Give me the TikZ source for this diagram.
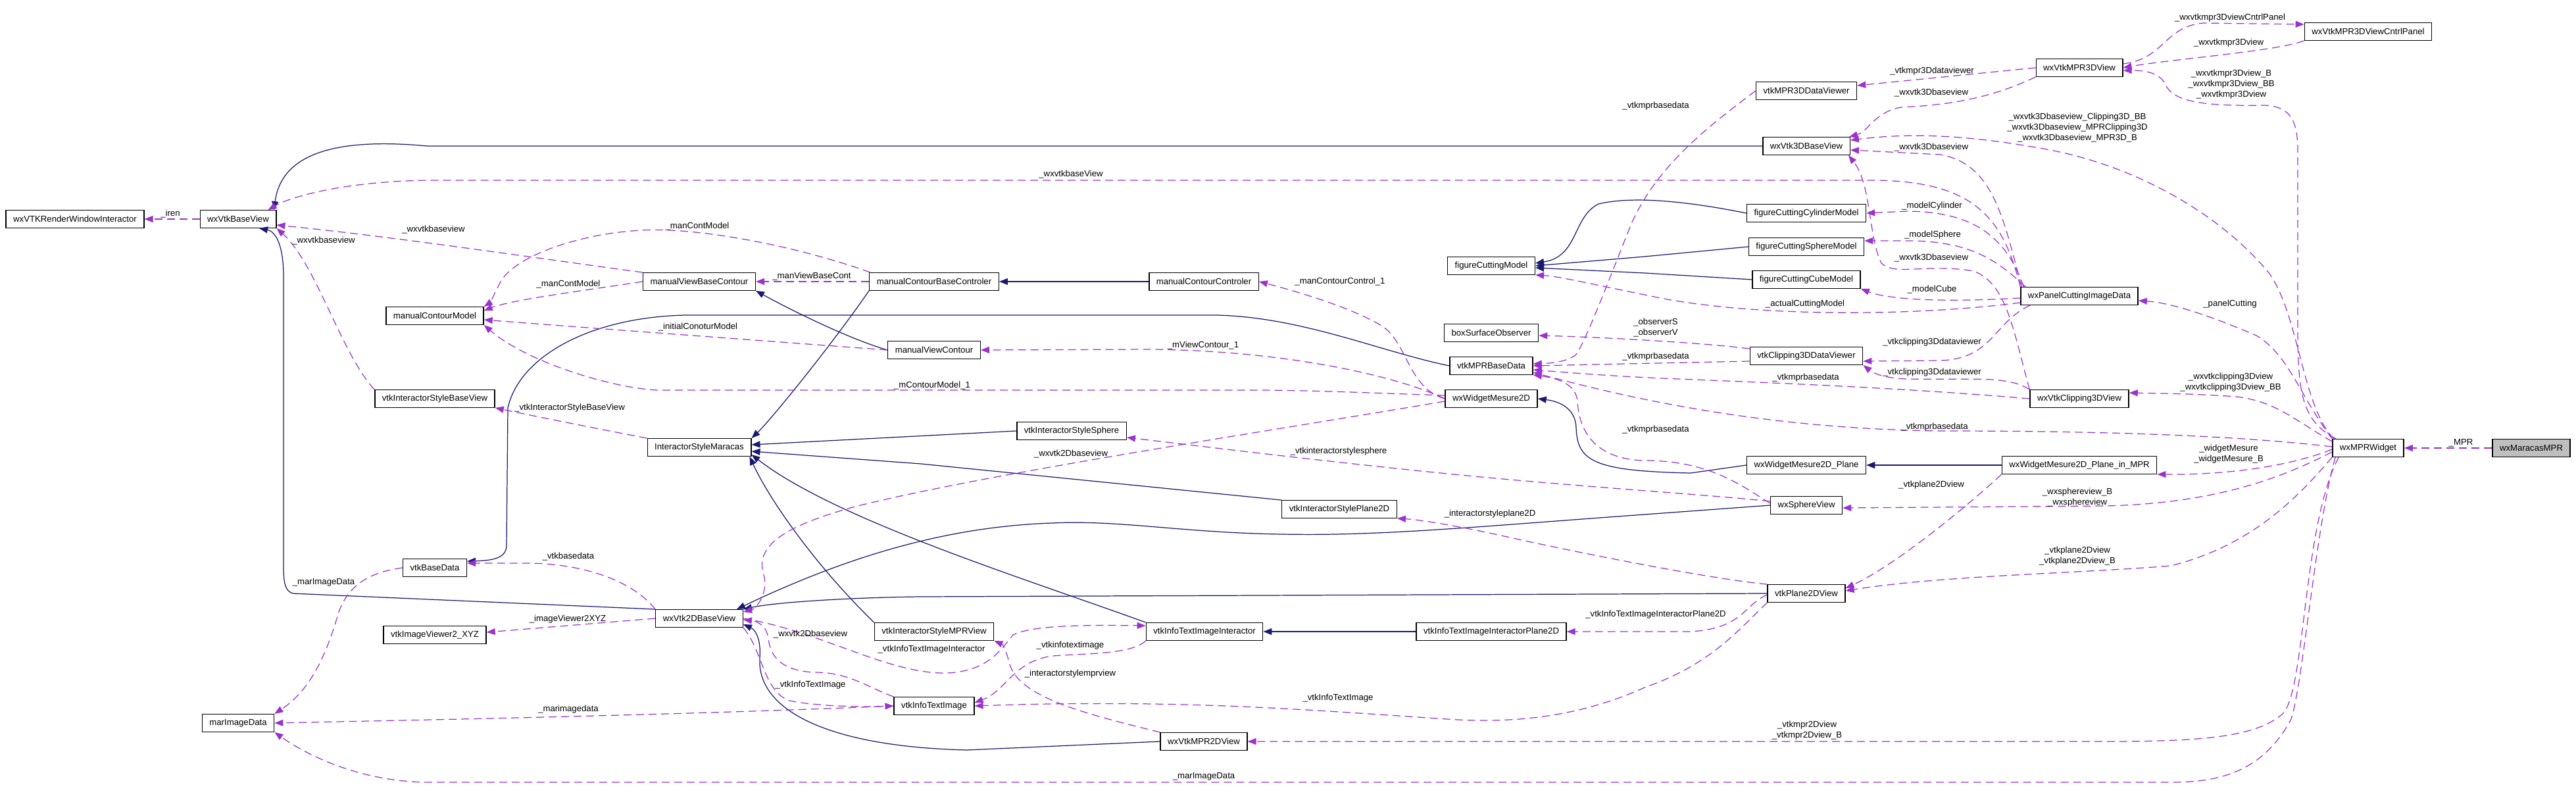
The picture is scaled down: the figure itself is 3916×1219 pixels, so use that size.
\documentclass[tikz,border=0pt]{standalone}
\usepackage{fontspec}
\setmainfont{Liberation Sans}
\usepackage{tikz}
\usetikzlibrary{arrows.meta}
\definecolor{inher}{RGB}{25,25,112}
\definecolor{usage}{RGB}{154,50,205}

\begin{document}
\begin{tikzpicture}[x=0.01cm, y=-0.01cm,
    every node/.style={font=\fontsize{3.75}{4.55}\selectfont},
    cls/.style={draw, line width=0.4pt, inner xsep=0.11cm, inner ysep=0pt, minimum height=0.265cm},
    lbl/.style={inner sep=0pt, align=center},
    derive/.style={draw=inher, line width=0.35pt, -{Triangle[length=0.13cm, width=0.1cm]}},
    member/.style={draw=usage, line width=0.35pt, dash pattern=on 3.4pt off 2pt, -{Triangle[length=0.13cm, width=0.1cm]}}]
    \useasboundingbox (0, 0) rectangle (3916, 1219);

    \node [cls] (renWin) at (114, 333) {wxVTKRenderWindowInteractor};
    \node [cls] (baseView) at (362, 333) {wxVtkBaseView};
    \node [cls] (contModel) at (661, 480) {manualContourModel};
    \node [cls] (styleBase) at (661, 606) {vtkInteractorStyleBaseView};
    \node [cls] (baseData) at (661, 863) {vtkBaseData};
    \node [cls] (viewerXYZ) at (661, 965) {vtkImageViewer2\_XYZ};
    \node [cls] (marData) at (362, 1099) {marImageData};
    \node [cls] (viewBaseCont) at (1063, 428) {manualViewBaseContour};
    \node [cls] (styleMaracas) at (1063, 680) {InteractorStyleMaracas};
    \node [cls] (view2D) at (1063, 940) {wxVtk2DBaseView};
    \node [cls] (contBaseCtrl) at (1420, 428) {manualContourBaseControler};
    \node [cls] (viewCont) at (1420, 532) {manualViewContour};
    \node [cls] (styleMPR) at (1420, 960) {vtkInteractorStyleMPRView};
    \node [cls] (infoText) at (1420, 1073) {vtkInfoTextImage};
    \node [cls] (contCtrl) at (1830, 428) {manualContourControler};
    \node [cls] (styleSphere) at (1629, 655) {vtkInteractorStyleSphere};
    \node [cls] (stylePlane) at (2036, 774) {vtkInteractorStylePlane2D};
    \node [cls] (infoInter) at (1831, 960) {vtkInfoTextImageInteractor};
    \node [cls] (mpr2D) at (1830, 1127) {wxVtkMPR2DView};
    \node [cls] (cutModel) at (2267, 404) {figureCuttingModel};
    \node [cls] (boxObs) at (2267, 506) {boxSurfaceObserver};
    \node [cls] (mprData) at (2267, 556) {vtkMPRBaseData};
    \node [cls] (mesure) at (2267, 606) {wxWidgetMesure2D};
    \node [cls] (infoInterPlane) at (2267, 960) {vtkInfoTextImageInteractorPlane2D};
    \node [cls] (mpr3DViewer) at (2746, 138) {vtkMPR3DDataViewer};
    \node [cls] (view3D) at (2746, 222) {wxVtk3DBaseView};
    \node [cls] (cutCyl) at (2746, 324) {figureCuttingCylinderModel};
    \node [cls] (cutSph) at (2746, 375) {figureCuttingSphereModel};
    \node [cls] (cutCube) at (2746, 425) {figureCuttingCubeModel};
    \node [cls] (clipViewer) at (2746, 541) {vtkClipping3DDataViewer};
    \node [cls] (mesurePlane) at (2746, 707) {wxWidgetMesure2D\_Plane};
    \node [cls] (sphereView) at (2746, 768) {wxSphereView};
    \node [cls] (plane2D) at (2746, 902) {vtkPlane2DView};
    \node [cls] (mpr3D) at (3161, 103) {wxVtkMPR3DView};
    \node [cls] (panelCut) at (3161, 450) {wxPanelCuttingImageData};
    \node [cls] (clip3D) at (3161, 606) {wxVtkClipping3DView};
    \node [cls] (mesurePlaneMPR) at (3161, 707) {wxWidgetMesure2D\_Plane\_in\_MPR};
    \node [cls] (cntrlPanel) at (3600, 48) {wxVtkMPR3DViewCntrlPanel};
    \node [cls] (mprWidget) at (3600, 681) {wxMPRWidget};
    \node [cls, fill={rgb,255:red,191;green,191;blue,191}] (maracas) at (3848, 681) {wxMaracasMPR};

    \draw [derive] (view3D.west) -- (650, 222) .. controls (470, 205) and (425, 255) .. ([xshift=-0.04cm]baseView.north east);
    \draw [derive] (view2D.north west) -- (445, 902) .. controls (433, 898) and (431, 885) .. (431, 860) -- (431, 420) .. controls (431, 375) and (420, 352) .. ([xshift=0.32cm]baseView.south);
    \draw [derive] (mprData.west) .. controls (2100, 535) and (1980, 482) .. (1849, 479) -- (1042, 479) .. controls (900, 482) and (790, 540) .. (772, 620) -- (770, 830) .. controls (769, 848) and (750, 852) .. ([yshift=-0.04cm]baseData.north east);
    \draw [derive] (viewCont.west) .. controls (1290, 515) and (1200, 470) .. (viewBaseCont.south east);
    \draw [derive] (contBaseCtrl.south west) .. controls (1260, 530) and (1170, 640) .. (styleMaracas.north east);
    \draw [derive] (contCtrl) -- (contBaseCtrl);
    \draw [derive] (styleSphere.west) -- ([yshift=0.04cm]styleMaracas.east);
    \draw [derive] (stylePlane.north west) -- (1400, 705) -- ([yshift=-0.06cm]styleMaracas.east);
    \draw [derive] (styleMPR.north west) .. controls (1240, 860) and (1170, 760) .. ([xshift=-0.03cm]styleMaracas.south east);
    \draw [derive] (infoInter.north west) .. controls (1560, 880) and (1270, 790) .. ([yshift=0.03cm]styleMaracas.south east);
    \draw [derive] (infoInterPlane) -- (infoInter);
    \draw [derive] (sphereView.west) -- (2500, 782) .. controls (2250, 800) and (2100, 815) .. (1950, 812) .. controls (1800, 810) and (1700, 790) .. (1600, 795) .. controls (1450, 800) and (1300, 840) .. ([xshift=-0.1cm]view2D.north east);
    \draw [derive] (plane2D.west) -- (1400, 907) .. controls (1300, 908) and (1180, 915) .. (view2D.north east);
    \draw [derive] (mpr2D.west) -- (1470, 1140) .. controls (1260, 1135) and (1150, 1080) .. (1155, 1000) .. controls (1157, 975) and (1150, 958) .. ([yshift=0.05cm]view2D.south east);
    \draw [derive] (cutCyl.west) .. controls (2560, 305) and (2480, 298) .. (2430, 310) .. controls (2390, 330) and (2400, 390) .. ([yshift=0.04cm]cutModel.east);
    \draw [derive] (cutSph.west) -- (2500, 390) -- (cutModel.east);
    \draw [derive] (cutCube.west) -- (2500, 415) -- ([yshift=-0.03cm]cutModel.east);
    \draw [derive] (mesurePlane.west) -- (2570, 719) .. controls (2420, 716) and (2398, 700) .. (2396, 650) .. controls (2395, 620) and (2370, 610) .. (mesure.east);
    \draw [derive] (mesurePlaneMPR) -- (mesurePlane);

    \draw [member] (maracas) -- (mprWidget);
    \draw [member] (baseView) -- (renWin);
    \draw [member] (panelCut.north west) .. controls (3045, 330) and (3000, 276) .. (2851, 274) -- (650, 274) .. controls (520, 276) and (440, 300) .. ([xshift=-0.13cm]baseView.north east);
    \draw [member] (viewBaseCont.north west) .. controls (820, 393) and (600, 360) .. ([yshift=-0.09cm]baseView.east);
    \draw [member] (styleBase.north west) .. controls (520, 540) and (480, 400) .. (baseView.south east);
    \draw [member] ([xshift=0.02cm]contBaseCtrl.north west) .. controls (1200, 370) and (1050, 345) .. (975, 350) .. controls (880, 355) and (780, 390) .. (760, 430) .. controls (750, 450) and (745, 460) .. (contModel.north east);
    \draw [member] (viewBaseCont.west) .. controls (900, 440) and (780, 455) .. ([yshift=-0.06cm]contModel.north east);
    \draw [member] (contBaseCtrl) -- (viewBaseCont);
    \draw [member] (viewCont.west) .. controls (1000, 506) and (850, 495) .. ([yshift=-0.06cm]contModel.east);
    \draw [member] ([yshift=0.05cm]mesure.west) .. controls (2100, 598) and (2000, 593) .. (1900, 593) -- (1000, 593) .. controls (930, 590) and (800, 550) .. (contModel.south east);
    \draw [member] (mesure.west) .. controls (2140, 590) and (2140, 520) .. (2100, 495) .. controls (2050, 465) and (1960, 440) .. (contCtrl.east);
    \draw [member] (mesure.west) .. controls (2120, 570) and (1950, 533) .. (1750, 531) -- (viewCont.east);
    \draw [member] (styleMaracas.north west) .. controls (900, 650) and (800, 630) .. (styleBase.south east);
    \draw [member] (baseData.west) .. controls (560, 870) and (530, 890) .. (515, 930) .. controls (495, 1000) and (470, 1050) .. (marData.north east);
    \draw [member] (view2D.north west) .. controls (960, 880) and (880, 856) .. (800, 856) -- ([yshift=0.07cm]baseData.east);
    \draw [member] (view2D.west) -- ([yshift=0.04cm]viewerXYZ.east);
    \draw [member] (infoText.west) .. controls (1000, 1088) and (600, 1095) .. (marData.east);
    \draw [member] ([xshift=0.05cm]mprWidget.south west) .. controls (3520, 800) and (3500, 1050) .. (3482, 1095) .. controls (3440, 1170) and (3380, 1189) .. (3300, 1189) -- (650, 1189) .. controls (550, 1188) and (470, 1150) .. (marData.south east);
    \draw [member] ([xshift=0.1cm]mprWidget.south west) .. controls (3500, 800) and (3505, 1050) .. (3470, 1085) .. controls (3430, 1120) and (3350, 1127) .. (3200, 1127) -- (mpr2D.east);
    \draw [member] (mprWidget.south west) .. controls (3490, 760) and (3420, 830) .. (3300, 860) .. controls (3150, 872) and (2950, 875) .. ([yshift=0.04cm]plane2D.east);
    \draw [member] ([yshift=-0.06cm]mprWidget.west) .. controls (3480, 720) and (3380, 765) .. (3200, 769) -- ([yshift=-0.04cm]sphereView.east);
    \draw [member] ([yshift=-0.02cm]mprWidget.west) .. controls (3490, 705) and (3400, 722) .. (mesurePlaneMPR.south east);
    \draw [member] ([yshift=0.02cm]mprWidget.west) .. controls (3400, 662) and (3200, 655) .. (2950, 655) .. controls (2700, 652) and (2500, 612) .. ([yshift=-0.1cm]mprData.east);
    \draw [member] (mprWidget.north west) .. controls (3495, 600) and (3480, 540) .. (3430, 510) .. controls (3360, 480) and (3300, 460) .. ([yshift=-0.07cm]panelCut.east);
    \draw [member] ([yshift=-0.04cm]mprWidget.north west) .. controls (3490, 640) and (3460, 610) .. (3400, 603) .. controls (3330, 598) and (3280, 598) .. ([yshift=0.09cm]clip3D.east);
    \draw [member] ([xshift=0.03cm]mprWidget.north west) .. controls (3500, 620) and (3495, 480) .. (3450, 416) .. controls (3380, 330) and (3250, 250) .. (3100, 225) .. controls (2960, 200) and (2880, 205) .. ([yshift=-0.05cm]view3D.north east);
    \draw [member] ([xshift=0.06cm]mprWidget.north west) .. controls (3500, 640) and (3493, 600) .. (3493, 500) -- (3493, 230) .. controls (3493, 180) and (3480, 161) .. (3440, 160) .. controls (3330, 162) and (3300, 150) .. (3290, 125) .. controls (3280, 110) and (3260, 107) .. ([yshift=-0.04cm]mpr3D.east);
    \draw [member] ([yshift=0.06cm]mpr3D.east) .. controls (3290, 90) and (3290, 40) .. (3350, 35) -- ([yshift=0.11cm]cntrlPanel.west);
    \draw [member] (cntrlPanel.south west) .. controls (3460, 78) and (3300, 90) .. (mpr3D.east);
    \draw [member] (mpr3D.west) -- ([yshift=0.08cm]mpr3DViewer.east);
    \draw [member] (mpr3D.south west) .. controls (3025, 150) and (2960, 160) .. (2890, 163) .. controls (2850, 170) and (2840, 200) .. ([xshift=-0.02cm]view3D.north east);
    \draw [member] (mpr3DViewer.west) .. controls (2600, 190) and (2520, 250) .. (2480, 340) .. controls (2440, 440) and (2410, 520) .. (2395, 540) .. controls (2380, 550) and (2360, 552) .. ([yshift=0.03cm]mprData.east);
    \draw [member] ([xshift=0.02cm]panelCut.north west) .. controls (3045, 330) and (3030, 250) .. (2950, 235) -- ([yshift=-0.06cm]view3D.east);
    \draw [member] (clip3D.north west) .. controls (3060, 500) and (3050, 430) .. (3000, 412) .. controls (2930, 400) and (2880, 420) .. (2860, 400) .. controls (2840, 360) and (2845, 280) .. ([xshift=-0.03cm]view3D.south east);
    \draw [member] ([xshift=0.05cm]panelCut.north west) .. controls (3050, 360) and (3000, 322) .. (2900, 321) -- (cutCyl.east);
    \draw [member] ([xshift=0.08cm]panelCut.north west) .. controls (3040, 400) and (3000, 366) .. (2900, 366) -- ([yshift=0.09cm]cutSph.east);
    \draw [member] ([yshift=-0.03cm]panelCut.west) .. controls (2950, 460) and (2870, 455) .. (cutCube.south east);
    \draw [member] ([yshift=-0.1cm]panelCut.west) .. controls (2900, 482) and (2650, 482) .. (2500, 448) .. controls (2420, 432) and (2370, 420) .. (cutModel.south east);
    \draw [member] ([xshift=0.15cm]panelCut.south west) .. controls (3030, 490) and (3030, 545) .. (2950, 548) -- ([yshift=-0.08cm]clipViewer.east);
    \draw [member] (clip3D.north west) .. controls (3050, 570) and (3000, 578) .. (2900, 576) .. controls (2860, 575) and (2845, 565) .. (clipViewer.south east);
    \draw [member] ([yshift=-0.08cm]clipViewer.west) -- (mprData.east);
    \draw [member] ([yshift=0.11cm]clipViewer.west) .. controls (2580, 520) and (2420, 512) .. ([yshift=-0.04cm]boxObs.east);
    \draw [member] (clip3D.west) .. controls (2900, 590) and (2700, 582) .. (2550, 576) .. controls (2450, 572) and (2380, 566) .. ([yshift=-0.06cm]mprData.east);
    \draw [member] ([yshift=0.03cm]sphereView.west) .. controls (2650, 740) and (2600, 700) .. (2500, 700) .. controls (2420, 698) and (2400, 650) .. (2398, 610) .. controls (2396, 585) and (2370, 575) .. (mprData.south east);
    \draw [member] ([yshift=0.06cm]sphereView.west) .. controls (2600, 752) and (2400, 740) .. (2200, 720) .. controls (2000, 700) and (1800, 675) .. ([yshift=-0.1cm]styleSphere.east);
    \draw [member] ([yshift=-0.04cm]mesure.west) .. controls (1900, 660) and (1500, 720) .. (1300, 770) .. controls (1190, 800) and (1150, 830) .. (1160, 870) .. controls (1170, 900) and (1150, 925) .. ([yshift=-0.04cm]view2D.north east);
    \draw [member] (plane2D.north west) .. controls (2600, 880) and (2400, 840) .. (2300, 818) .. controls (2220, 800) and (2160, 790) .. (stylePlane.south east);
    \draw [member] ([yshift=-0.02cm]plane2D.west) .. controls (2650, 920) and (2650, 955) .. (2570, 960) -- (infoInterPlane.east);
    \draw [member] (plane2D.south west) .. controls (2640, 960) and (2600, 1010) .. (2500, 1045) .. controls (2400, 1090) and (2300, 1100) .. (2200, 1093) .. controls (2000, 1080) and (1800, 1062) .. (infoText.east);
    \draw [member] (mpr2D.north west) .. controls (1650, 1085) and (1550, 1060) .. (1535, 1010) .. controls (1530, 990) and (1525, 980) .. (styleMPR.south east);
    \draw [member] (infoInter.south west) .. controls (1720, 995) and (1650, 993) .. (1600, 997) .. controls (1540, 1005) and (1530, 1050) .. ([yshift=0.05cm]infoText.east);
    \draw [member] (view2D.east) .. controls (1250, 960) and (1350, 1025) .. (1440, 1023) .. controls (1500, 1020) and (1520, 990) .. (1540, 965) .. controls (1570, 950) and (1650, 950) .. ([yshift=0.09cm]infoInter.west);
    \draw [member] (infoText.north west) .. controls (1320, 1045) and (1290, 1022) .. (1240, 1022) .. controls (1180, 1020) and (1170, 990) .. (1168, 970) .. controls (1165, 950) and (1150, 944) .. ([yshift=-0.02cm]view2D.east);
    \draw [member] (view2D.south east) .. controls (1160, 990) and (1160, 1050) .. (1200, 1065) .. controls (1240, 1073) and (1300, 1075) .. (infoText.west);
    \draw [member] (mesurePlaneMPR.south west) .. controls (2990, 770) and (2880, 860) .. ([yshift=0.08cm]plane2D.east);

    \node [lbl] (lIren) at (259, 325) {\_iren};
    \node [lbl] (lPanelBase) at (1628, 265) {\_wxvtkbaseView};
    \node [lbl] (lContBase) at (659, 349) {\_wxvtkbaseview};
    \node [lbl] (lStyleBase) at (492, 366) {\_wxvtkbaseview};
    \node [lbl] (lCtrlModel) at (1060, 344) {\_manContModel};
    \node [lbl] (lViewModel) at (864, 432) {\_manContModel};
    \node [lbl] (lViewBase) at (1234, 420) {\_manViewBaseCont};
    \node [lbl] (lInitModel) at (1061, 497) {\_initialConoturModel};
    \node [lbl] (lMesModel) at (1417, 586) {\_mContourModel\_1};
    \node [lbl] (lMesCtrl) at (2037, 428) {\_manContourControl\_1};
    \node [lbl] (lMesView) at (1829, 525) {\_mViewContour\_1};
    \node [lbl] (lMarStyle) at (866, 620) {\_vtkInteractorStyleBaseView};
    \node [lbl] (lBaseMar) at (492, 885) {\_marImageData};
    \node [lbl] (l2DBase) at (864, 846) {\_vtkbasedata};
    \node [lbl] (l2DViewer) at (863, 941) {\_imageViewer2XYZ};
    \node [lbl] (lInfoMar) at (864, 1078) {\_marimagedata};
    \node [lbl] (lMPRMar) at (1830, 1180) {\_marImageData};
    \node [lbl] (lMPR2D) at (2747, 1110) {\_vtkmpr2Dview\\\_vtkmpr2Dview\_B};
    \node [lbl] (lMPRPlane) at (3158, 845) {\_vtkplane2Dview\\\_vtkplane2Dview\_B};
    \node [lbl] (lMPRSphere) at (3158, 756) {\_wxsphereview\_B\\\_wxsphereview};
    \node [lbl] (lMPRMes) at (3388, 690) {\_widgetMesure\\\_widgetMesure\_B};
    \node [lbl] (lMPRData) at (2941, 649) {\_vtkmprbasedata};
    \node [lbl] (lMPRPanel) at (3390, 462) {\_panelCutting};
    \node [lbl] (lMPRClip) at (3391, 581) {\_wxvtkclipping3Dview\\\_wxvtkclipping3Dview\_BB};
    \node [lbl] (lMPR3DBase) at (3158, 194) {\_wxvtk3Dbaseview\_Clipping3D\_BB\\\_wxvtk3Dbaseview\_MPRClipping3D\\\_wxvtk3Dbaseview\_MPR3D\_B};
    \node [lbl] (lMPR3D) at (3392, 128) {\_wxvtkmpr3Dview\_B\\\_wxvtkmpr3Dview\_BB\\\_wxvtkmpr3Dview};
    \node [lbl] (l3DPanel) at (3390, 27) {\_wxvtkmpr3DviewCntrlPanel};
    \node [lbl] (lPanel3D) at (3388, 65) {\_wxvtkmpr3Dview};
    \node [lbl] (l3DViewer) at (2937, 108) {\_vtkmpr3Ddataviewer};
    \node [lbl] (l3DBase) at (2936, 141) {\_wxvtk3Dbaseview};
    \node [lbl] (lViewerData) at (2517, 161) {\_vtkmprbasedata};
    \node [lbl] (lPanel3DBase) at (2936, 224) {\_wxvtk3Dbaseview};
    \node [lbl] (lClip3DBase) at (2936, 392) {\_wxvtk3Dbaseview};
    \node [lbl] (lCyl) at (2937, 313) {\_modelCylinder};
    \node [lbl] (lSph) at (2938, 357) {\_modelSphere};
    \node [lbl] (lCube) at (2937, 440) {\_modelCube};
    \node [lbl] (lActual) at (2744, 462) {\_actualCuttingModel};
    \node [lbl] (lPanelClip) at (2937, 520) {\_vtkclipping3Ddataviewer};
    \node [lbl] (lClipViewer) at (2937, 566) {\_vtkclipping3Ddataviewer};
    \node [lbl] (lClipData) at (2517, 542) {\_vtkmprbasedata};
    \node [lbl] (lObs) at (2517, 498) {\_observerS\\\_observerV};
    \node [lbl] (lClip3DData) at (2745, 574) {\_vtkmprbasedata};
    \node [lbl] (lSphereData) at (2517, 653) {\_vtkmprbasedata};
    \node [lbl] (lSphereStyle) at (2035, 686) {\_vtkinteractorstylesphere};
    \node [lbl] (lMes2D) at (1628, 690) {\_wxvtk2Dbaseview};
    \node [lbl] (lPlaneStyle) at (2265, 781) {\_interactorstyleplane2D};
    \node [lbl] (lPlaneInter) at (2517, 934) {\_vtkInfoTextImageInteractorPlane2D};
    \node [lbl] (lPlaneInfo) at (2034, 1061) {\_vtkInfoTextImage};
    \node [lbl] (lMaracas) at (3741, 673) {\_MPR};
    \node [lbl] (lMPRStyle) at (1627, 1024) {\_interactorstylemprview};
    \node [lbl] (lInterInfo) at (1627, 981) {\_vtkinfotextimage};
    \node [lbl] (l2DInter) at (1416, 987) {\_vtkInfoTextImageInteractor};
    \node [lbl] (lInfo2D) at (1232, 964) {\_wxvtk2Dbaseview};
    \node [lbl] (l2DInfo) at (1232, 1041) {\_vtkInfoTextImage};
    \node [lbl] (lMesPlane) at (2936, 737) {\_vtkplane2Dview};
\end{tikzpicture}
\end{document}
